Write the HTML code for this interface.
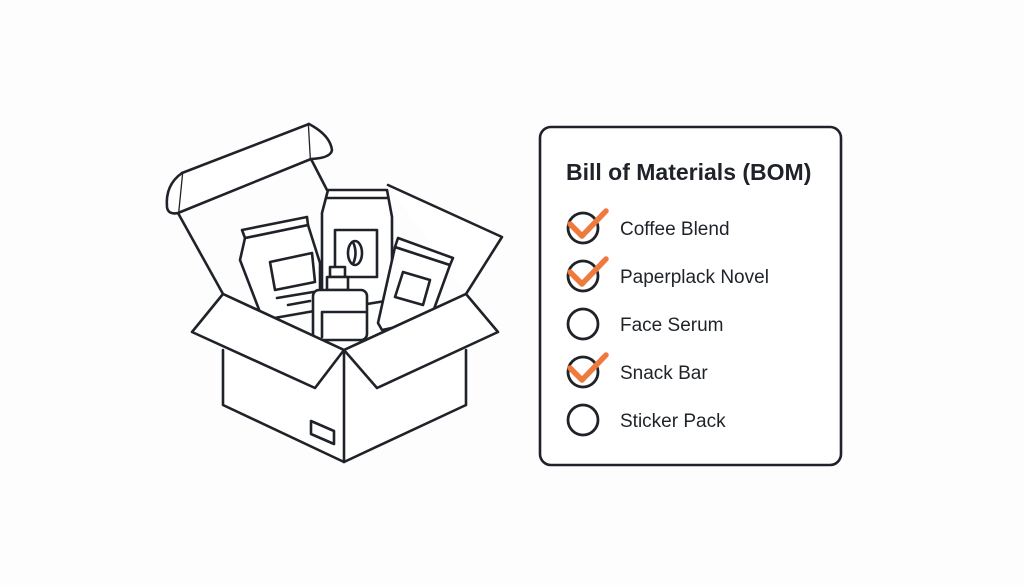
<!DOCTYPE html>
<html><head><meta charset="utf-8"><style>
html,body{margin:0;padding:0;background:#fdfdfd;}
body{width:1024px;height:585px;position:relative;overflow:hidden;font-family:"Liberation Sans",sans-serif;}
</style></head><body>
<svg width="1024" height="585" viewBox="0 0 1024 585" style="position:absolute;left:0;top:0">
<g fill="none" stroke="#1f2329" stroke-width="2.6" stroke-linejoin="round" stroke-linecap="round">
<path d="M388,185 L502,237 L466,294" fill="#fff"/>
<path d="M178,213 L223,294" />
<path d="M311,159 L327,190" />
<path d="M182,173 L309,124 L311,159 L178,213 Z" fill="#fff"/>
<path d="M182,173 Q165,185 167,207 Q168,215 178,213" fill="#fff"/>
<path d="M309,124 Q330,135 332,150 Q331,158 311,159" fill="#fff"/>
<path d="M328,190 L387,190 L392,217 L392,300 L330,310 L322,300 L322,213 Z" fill="#fff"/>
<path d="M327,198 L388,198"/>
<rect x="335" y="230" width="42" height="47" fill="#fff"/>
<ellipse cx="355" cy="253" rx="7" ry="12"/>
<path d="M353,242 Q358,253 353,264"/>
<path d="M245,238 L240,260 L263,320 L320,310 L320,263 L308,225 Z" fill="#fff"/>
<path d="M242,230 L307,217 L308,225 L245,238 Z" fill="#fff"/>
<path d="M270,262 L312,253 L315,282 L275,290 Z"/>
<path d="M277,298 L313,292 M288,305 L310,301"/>
<path d="M395,247 L378,323 L382,330 L430,320 L450,265 Z" fill="#fff"/>
<path d="M398,238 L453,258 L450,265 L395,247 Z" fill="#fff"/>
<path d="M403,272 L430,280 L423,305 L395,297 Z"/>
<rect x="330" y="267" width="15" height="10" fill="#fff"/>
<rect x="327" y="277" width="21" height="13" fill="#fff"/>
<rect x="313" y="290" width="54" height="50" rx="6" fill="#fff"/>
<path d="M322,337 L322,312 L365,312"/>
<path d="M223,294 L344,350 L466,294"/>
<path d="M223,350 L223,405 L344,462 L466,405 L466,350" fill="#fff"/>
<path d="M344,350 L344,462"/>
<path d="M223,294 L192,332 L315,388 L344,350 Z" fill="#fff"/>
<path d="M466,294 L498,332 L377,388 L344,350 Z" fill="#fff"/>
<path d="M311,421 L334,431 L334,444 L311,434 Z"/>
</g>
<rect x="540" y="127" width="301" height="338" rx="11" fill="#fff" stroke="#1f2329" stroke-width="2.6"/>
<text x="566" y="180" font-family="Liberation Sans, sans-serif" font-weight="bold" font-size="23" fill="#1f2329">Bill of Materials (BOM)</text>
<g fill="none" stroke="#1f2329" stroke-width="2.8">
<circle cx="583" cy="228" r="15"/><circle cx="583" cy="276" r="15"/><circle cx="583" cy="324" r="15"/><circle cx="583" cy="372" r="15"/><circle cx="583" cy="420" r="15"/>
</g>
<g fill="none" stroke="#ee7a3d" stroke-width="5.5" stroke-linecap="round" stroke-linejoin="round">
<path d="M570,224 L582,236 L606,211"/>
<path d="M570,272 L582,284 L606,259"/>
<path d="M570,368 L582,380 L606,355"/>
</g>
<g font-family="Liberation Sans, sans-serif" font-size="19" fill="#1f2329">
<text x="620" y="235">Coffee Blend</text>
<text x="620" y="283">Paperplack Novel</text>
<text x="620" y="331">Face Serum</text>
<text x="620" y="379">Snack Bar</text>
<text x="620" y="427">Sticker Pack</text>
</g>
</svg>
</body></html>
